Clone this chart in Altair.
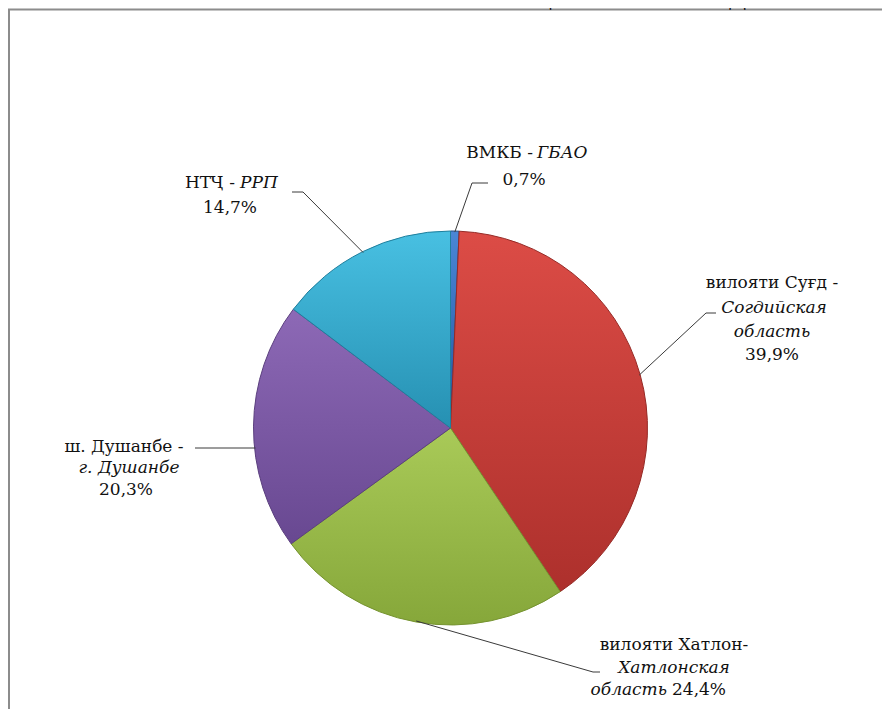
import math
import altair as alt
import pandas as pd

# ---------------- data ----------------
categories = ["ВМКБ", "Суғд", "Хатлон", "Душанбе", "НТҶ"]
shares = [0.7, 39.9, 24.4, 20.3, 14.7]
pct_labels = ["0,7%", "39,9%", "24,4%", "20,3%", "14,7%"]
title_text = "ПО ВСЕМ КАНАЛАМ РЕАЛИЗАЦИИ ЗА 2017 ГОД"

# label text pieces
label_regular_1 = ["ВМКБ - ", "вилояти Суғд -", "вилояти Хатлон-", "ш. Душанбе -", "НТҶ - "]
label_italic_1 = ["ГБАО", "Согдийская", "Хатлонская", "г. Душанбе", "РРП"]
label_italic_2 = ["", "область", "область", "", ""]

# ---------------- styles / layout ----------------
W, H = 874, 701
CX, CY, R = 442.5, 420, 197
FONT = "DejaVu Serif"
FS = 17

light = ["#4a86d6", "#dc4c46", "#a9ca58", "#8d69b6", "#48c0e2"]
dark = ["#23589e", "#ad302c", "#86a73a", "#684891", "#2690b2"]
edge = ["#1d4a85", "#962a26", "#75932f", "#5b3f7e", "#1f7f9d"]

def grad(a, b):
    return {"gradient": "linear", "x1": 0, "y1": 0, "x2": 0, "y2": 1,
            "stops": [{"offset": 0, "color": a}, {"offset": 1, "color": b}]}

pie_df = pd.DataFrame({"cat": categories, "share": shares, "idx": range(len(categories))})

fill_enc = {
    "condition": [{"test": f"datum.cat === '{c}'", "value": grad(light[i], dark[i])}
                  for i, c in enumerate(categories[:-1])],
    "value": grad(light[-1], dark[-1]),
}
stroke_enc = {
    "condition": [{"test": f"datum.cat === '{c}'", "value": edge[i]}
                  for i, c in enumerate(categories[:-1])],
    "value": edge[-1],
}

pie = alt.Chart(pie_df).mark_arc(outerRadius=R, strokeWidth=1).encode(
    theta=alt.Theta("share:Q", stack=True),
    order=alt.Order("idx:Q"),
    fill=fill_enc,
    stroke=stroke_enc,
    x=alt.value(CX),
    y=alt.value(CY),
)

# ---------------- leader lines (start on the slice edge) ----------------
total = sum(shares)
elbows = [(464, 175), (698, 305), (585, 664), (187, 440), (295, 184)]
ends = [(480, 175), (708, 305), (592, 664), (187, 440), (284, 184)]
horizontal_leader = [False, False, False, True, False]
rows = []
cum = 0.0
for i, s in enumerate(shares):
    mid = (cum + s / 2) / total * 2 * math.pi
    cum += s
    if horizontal_leader[i]:
        ly = ends[i][1]
        sx = CX - math.sqrt((R - 1) ** 2 - (ly - CY) ** 2)
        sy = ly
    else:
        sx = CX + (R - 1) * math.sin(mid)
        sy = CY - (R - 1) * math.cos(mid)
    for j, (px, py) in enumerate([(sx, sy), elbows[i], ends[i]]):
        rows.append({"seg": i, "o": j, "px": px, "py": py})
lead_df = pd.DataFrame(rows)
leaders = alt.Chart(lead_df).mark_line(color="#3a3a3a", strokeWidth=1).encode(
    x=alt.X("px:Q", scale=None, axis=None),
    y=alt.Y("py:Q", scale=None, axis=None),
    detail="seg:N",
    order="o:Q",
)

# ---------------- labels ----------------
pieces = []  # text, x, y, italic, align
pieces += [(label_regular_1[0], 525, 145, False, "right"), (label_italic_1[0], 529, 145, True, "left"),
           (pct_labels[0], 516, 172, False, "center")]
pieces += [(label_regular_1[1], 764, 275, False, "center"), (label_italic_1[1], 766, 300, True, "center"),
           (label_italic_2[1], 764, 324, True, "center"), (pct_labels[1], 764, 347, False, "center")]
pieces += [(label_regular_1[2], 666, 637, False, "center"), (label_italic_1[2], 666, 660, True, "center"),
           (label_italic_2[2], 659, 682, True, "right"), (pct_labels[2], 664, 682, False, "left")]
pieces += [(label_regular_1[3], 116, 439, False, "center"), (label_italic_1[3], 121, 460, True, "center"),
           (pct_labels[3], 118, 482, False, "center")]
pieces += [(label_regular_1[4], 227, 175, False, "right"), (label_italic_1[4], 232, 175, True, "left"),
           (pct_labels[4], 222, 200, False, "center")]

lab_df = pd.DataFrame(pieces, columns=["t", "lx", "ly", "it", "al"])
text_layers = []
for (it, al), g in lab_df.groupby(["it", "al"]):
    text_layers.append(
        alt.Chart(g.reset_index(drop=True)).mark_text(
            font=FONT, fontSize=FS, fontStyle="italic" if it else "normal",
            align=al, baseline="middle", color="#111111",
        ).encode(
            x=alt.X("lx:Q", scale=None, axis=None),
            y=alt.Y("ly:Q", scale=None, axis=None),
            text="t:N",
        )
    )

# ---------------- frame & clipped title ----------------
one = alt.Data(values=[{}])
frame_left = alt.Chart(one).mark_rule(color="#8c8c8c", strokeWidth=2).encode(
    x=alt.value(1), y=alt.value(1.5), y2=alt.value(H))
frame_top = alt.Chart(one).mark_rule(color="#8c8c8c", strokeWidth=2).encode(
    x=alt.value(0), x2=alt.value(W), y=alt.value(1.5))
title = alt.Chart(alt.Data(values=[{"t": title_text}])).mark_text(
    font=FONT, fontSize=20, fontWeight="bold", align="center", baseline="alphabetic", color="#111111"
).encode(x=alt.value(448), y=alt.value(-1), text="t:N")

chart = alt.layer(frame_left, frame_top, title, pie, leaders, *text_layers).properties(
    width=W, height=H, padding=0, autosize=alt.AutoSizeParams(type="none"),
    background="white",
).configure_view(stroke=None)

chart.save("out.html", embed_options={"renderer": "svg", "actions": False})
